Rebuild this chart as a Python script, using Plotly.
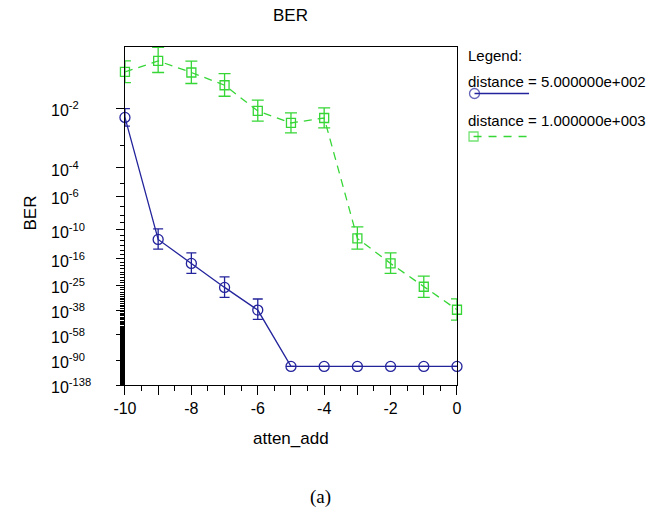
import numpy as np
import plotly.graph_objects as go

W, H = 647, 510
# plot area (pixels)
PX0, PX1, PY0, PY1 = 116, 457, 47, 385

# ---------------- data ----------------
atten_add = [-10, -9, -8, -7, -6, -5, -4, -3, -2, -1, 0]

ber_d500 = [6.5e-3, 1.9e-12, 4.5e-18, 1.3e-26, 1.0e-38,
            1e-100, 1e-100, 1e-100, 1e-100, 1e-100, 1e-100]
ber_d500_hi = [9.9e-3, 1.26e-10, 2.75e-15, 2.1e-22, 3.2e-32,
               1e-100, 1e-100, 1e-100, 1e-100, 1e-100, 1e-100]
ber_d500_lo = [4.0e-3, 2.0e-14, 3.4e-21, 2.5e-31, 3.2e-45,
               1e-100, 1e-100, 1e-100, 1e-100, 1e-100, 1e-100]

ber_d1000 = [3.29e-2, 4.16e-2, 3.25e-2, 2.32e-2, 8.9e-3, 4.8e-3, 6.3e-3,
             2.95e-12, 4.5e-18, 2.5e-26, 1.6e-38]
ber_d1000_hi = [4.16e-2, 5.25e-2, 4.14e-2, 3.17e-2, 1.4e-2, 8.1e-3, 1.02e-2,
                2.6e-10, 2.75e-15, 4.0e-22, 4.0e-32]
ber_d1000_lo = [2.5e-2, 3.25e-2, 2.44e-2, 1.62e-2, 5.3e-3, 2.6e-3, 3.6e-3,
                2.0e-14, 3.4e-21, 2.5e-31, 8.0e-46]

y_major_exp = [2, 4, 6, 10, 16, 25, 38, 58, 90, 138]
x_tick_vals = [-10, -9, -8, -7, -6, -5, -4, -3, -2, -1, 0]
x_tick_text = ["-10", "", "-8", "", "-6", "", "-4", "", "-2", "", "0"]

legend_names = ["distance = 5.000000e+002", "distance = 1.000000e+003"]

# ---------------- BER axis transform (double-log scale) ----------------
OFF = 0.9


def tf_exp(e):
    return -np.log10(np.asarray(e, float) - OFF)


def tf(ber):
    return tf_exp(-np.log10(np.asarray(ber, float)))


y_minor_exp = [e for e in range(3, 138) if e not in y_major_exp]
y_bottom = float(tf_exp(138))
y_top = float(tf_exp(1.277))

BLUE = "#23239c"
GREEN = "#36d636"
FONT = "Liberation Sans, Arial, sans-serif"


def series(x, ber, hi, lo, name, color, symbol, size, dash, cap):
    yv = tf(ber)
    plus = tf(hi) - yv
    minus = yv - tf(lo)
    return go.Scatter(
        x=x, y=yv, name=name, mode="lines+markers",
        line=dict(color=color, width=1.3, dash=dash),
        marker=dict(symbol=symbol, size=size, color=color,
                    line=dict(color=color, width=1.3)),
        error_y=dict(type="data", symmetric=False, array=plus, arrayminus=minus,
                     color=color, thickness=1.3, width=cap, visible=True),
        cliponaxis=False, showlegend=False, xaxis="x", yaxis="y",
    )


fig = go.Figure()
fig.add_trace(series(atten_add, ber_d500, ber_d500_hi, ber_d500_lo,
                     legend_names[0], BLUE, "circle-open", 10, "solid", 5))
fig.add_trace(series(atten_add, ber_d1000, ber_d1000_hi, ber_d1000_lo,
                     legend_names[1], GREEN, "square-open", 9, "8px,6px", 6))

# legend swatches on a pixel-space helper axis
fig.add_trace(go.Scatter(x=[475, 531], y=[93.5, 93.5], mode="lines+markers",
                         line=dict(color=BLUE, width=1.3),
                         marker=dict(symbol="circle-open", size=[10, 0], color=BLUE,
                                     line=dict(color=BLUE, width=1.3)),
                         xaxis="x2", yaxis="y2", showlegend=False, hoverinfo="skip"))
fig.add_trace(go.Scatter(x=[474, 533], y=[136.5, 136.5], mode="lines+markers",
                         line=dict(color=GREEN, width=1.3, dash="8px,7px"),
                         marker=dict(symbol="square-open", size=[9, 0], color=GREEN,
                                     line=dict(color=GREEN, width=1.3)),
                         xaxis="x2", yaxis="y2", showlegend=False, hoverinfo="skip"))

ann = []
# y tick labels (left aligned like the reference)
for e in y_major_exp:
    ann.append(dict(x=38 / W, xref="paper", y=float(tf_exp(e)), yref="y",
                    text=f"10<sup>-{e}</sup>", showarrow=False, xanchor="left",
                    yanchor="middle", yshift=-1,
                    font=dict(family=FONT, size=16, color="black")))

ann += [
    dict(x=(PX0 + PX1) / 2 / W, y=1 - 15 / H, xref="paper", yref="paper", text="BER",
         showarrow=False, xanchor="center", yanchor="middle",
         font=dict(family=FONT, size=17, color="black")),
    dict(x=(PX0 + PX1) / 2 / W, y=1 - 438 / H, xref="paper", yref="paper", text="atten_add",
         showarrow=False, xanchor="center", yanchor="middle",
         font=dict(family=FONT, size=17, color="black")),
    dict(x=18 / W, y=1 - 213 / H, xref="paper", yref="paper", text="BER", textangle=-90,
         showarrow=False, xanchor="center", yanchor="middle",
         font=dict(family=FONT, size=17, color="black")),
    dict(x=466 / W, y=1 - 55 / H, xref="paper", yref="paper", text="Legend:",
         showarrow=False, xanchor="left", yanchor="middle",
         font=dict(family=FONT, size=15, color="black")),
    dict(x=466 / W, y=1 - 81 / H, xref="paper", yref="paper", text=legend_names[0],
         showarrow=False, xanchor="left", yanchor="middle",
         font=dict(family=FONT, size=15, color="black")),
    dict(x=466 / W, y=1 - 120 / H, xref="paper", yref="paper", text=legend_names[1],
         showarrow=False, xanchor="left", yanchor="middle",
         font=dict(family=FONT, size=15, color="black")),
    dict(x=317 / W, y=1 - 497 / H, xref="paper", yref="paper", text="(a)",
         showarrow=False, xanchor="center", yanchor="middle",
         font=dict(family="Liberation Serif, Times New Roman, serif", size=19, color="black")),
]

fig.update_layout(
    width=W, height=H, margin=dict(l=0, r=0, t=0, b=0),
    paper_bgcolor="white", plot_bgcolor="rgba(0,0,0,0)",
    showlegend=False, annotations=ann,
    xaxis=dict(domain=[PX0 / W, PX1 / W], range=[-10, 0], anchor="y",
               tickmode="array", tickvals=x_tick_vals, ticktext=x_tick_text,
               ticks="outside", ticklen=9, tickwidth=1, tickcolor="black",
               minor=dict(tickmode="array",
                          tickvals=[v + 0.5 for v in x_tick_vals[:-1]],
                          ticks="outside", ticklen=5, tickwidth=1, tickcolor="black"),
               showline=True, linecolor="black", linewidth=1, mirror=True,
               showgrid=False, zeroline=False,
               tickfont=dict(family=FONT, size=16, color="black")),
    yaxis=dict(domain=[1 - PY1 / H, 1 - PY0 / H], range=[y_bottom, y_top], anchor="x",
               tickmode="array", tickvals=[float(v) for v in tf_exp(y_major_exp)],
               ticktext=["" for _ in y_major_exp],
               ticks="outside", ticklen=8, tickwidth=1, tickcolor="black",
               minor=dict(tickmode="array",
                          tickvals=[float(v) for v in tf_exp(y_minor_exp)],
                          ticks="outside", ticklen=4, tickwidth=1, tickcolor="black"),
               showline=True, linecolor="black", linewidth=1, mirror=True,
               showgrid=False, zeroline=False),
    xaxis2=dict(domain=[0, 1], range=[0, W], visible=False, anchor="y2", fixedrange=True),
    yaxis2=dict(domain=[0, 1], range=[H, 0], visible=False, anchor="x2", fixedrange=True),
)

fig.write_html("out.html")
